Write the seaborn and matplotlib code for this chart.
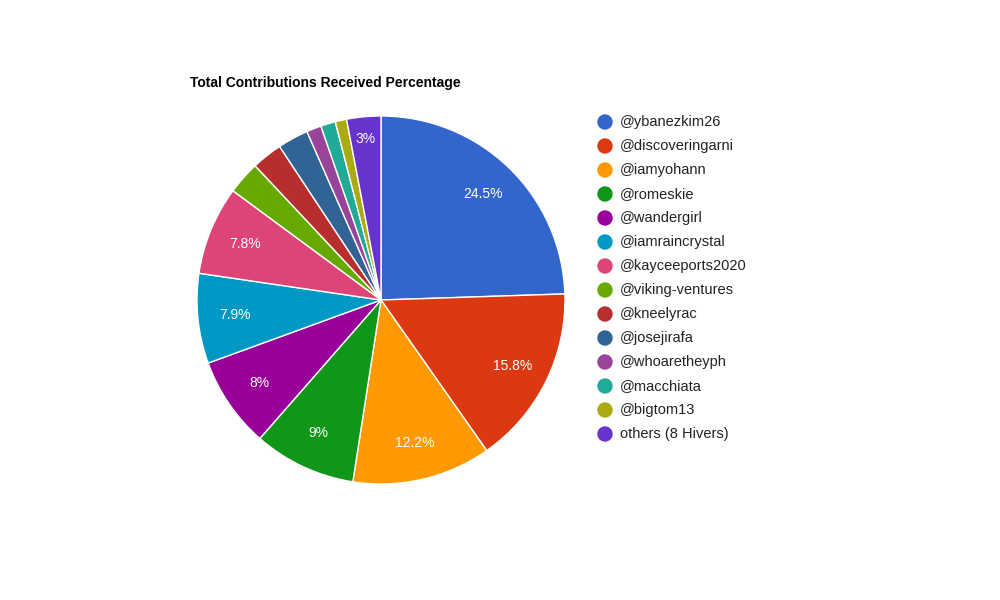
import matplotlib
matplotlib.use("Agg")
import matplotlib.pyplot as plt
import seaborn as sns
import numpy as np

sns.set_theme(style="white", font="Liberation Sans")

names = ["@ybanezkim26", "@discoveringarni", "@iamyohann", "@romeskie", "@wandergirl",
         "@iamraincrystal", "@kayceeports2020", "@viking-ventures", "@kneelyrac",
         "@josejirafa", "@whoaretheyph", "@macchiata", "@bigtom13", "others (8 Hivers)"]
values = [24.5, 15.8, 12.2, 9.0, 8.0, 7.9, 7.8, 2.9, 2.7, 2.7, 1.3, 1.3, 1.0, 3.0]
labels = ["24.5%", "15.8%", "12.2%", "9%", "8%", "7.9%", "7.8%", "", "", "", "", "", "", "3%"]
colors = ["#3366cc", "#dc3912", "#ff9900", "#109618", "#990099", "#0099c6", "#dd4477",
          "#66aa00", "#b82e2e", "#316395", "#994499", "#22aa99", "#aaaa11", "#6633cc"]

fig = plt.figure(figsize=(10, 6), dpi=100)
ax = fig.add_axes([0.381 - 0.184, 0.5 - 0.184 * 10 / 6, 0.368, 0.368 * 10 / 6])
wedges, _ = ax.pie(values, colors=colors, startangle=90, counterclock=False,
                   wedgeprops=dict(edgecolor="white", linewidth=1))
ax.set_xlim(-1, 1)
ax.set_ylim(-1, 1)
ax.set_aspect("equal")
for w, lab in zip(wedges, labels):
    if not lab:
        continue
    ang = np.deg2rad((w.theta1 + w.theta2) / 2)
    r = 0.8 if lab != "3%" else 0.88
    ax.text(r * np.cos(ang), r * np.sin(ang), lab, ha="center", va="center",
            color="white", fontsize=10)

fig.text(0.19, 0.862, "Total Contributions Received Percentage", fontsize=10,
         fontweight="bold", ha="left", va="center", color="black")

for i, (n, c) in enumerate(zip(names, colors)):
    y = 1 - (122 + 24 * i) / 600
    fig.patches.append(matplotlib.patches.Ellipse((0.605, y), 0.014, 0.014 * 10 / 6,
                                                  color=c, transform=fig.transFigure))
    fig.text(0.62, y, n, fontsize=10.5, va="center", ha="left", color="#222222")

fig.savefig("out.png", dpi=100, facecolor="white")
